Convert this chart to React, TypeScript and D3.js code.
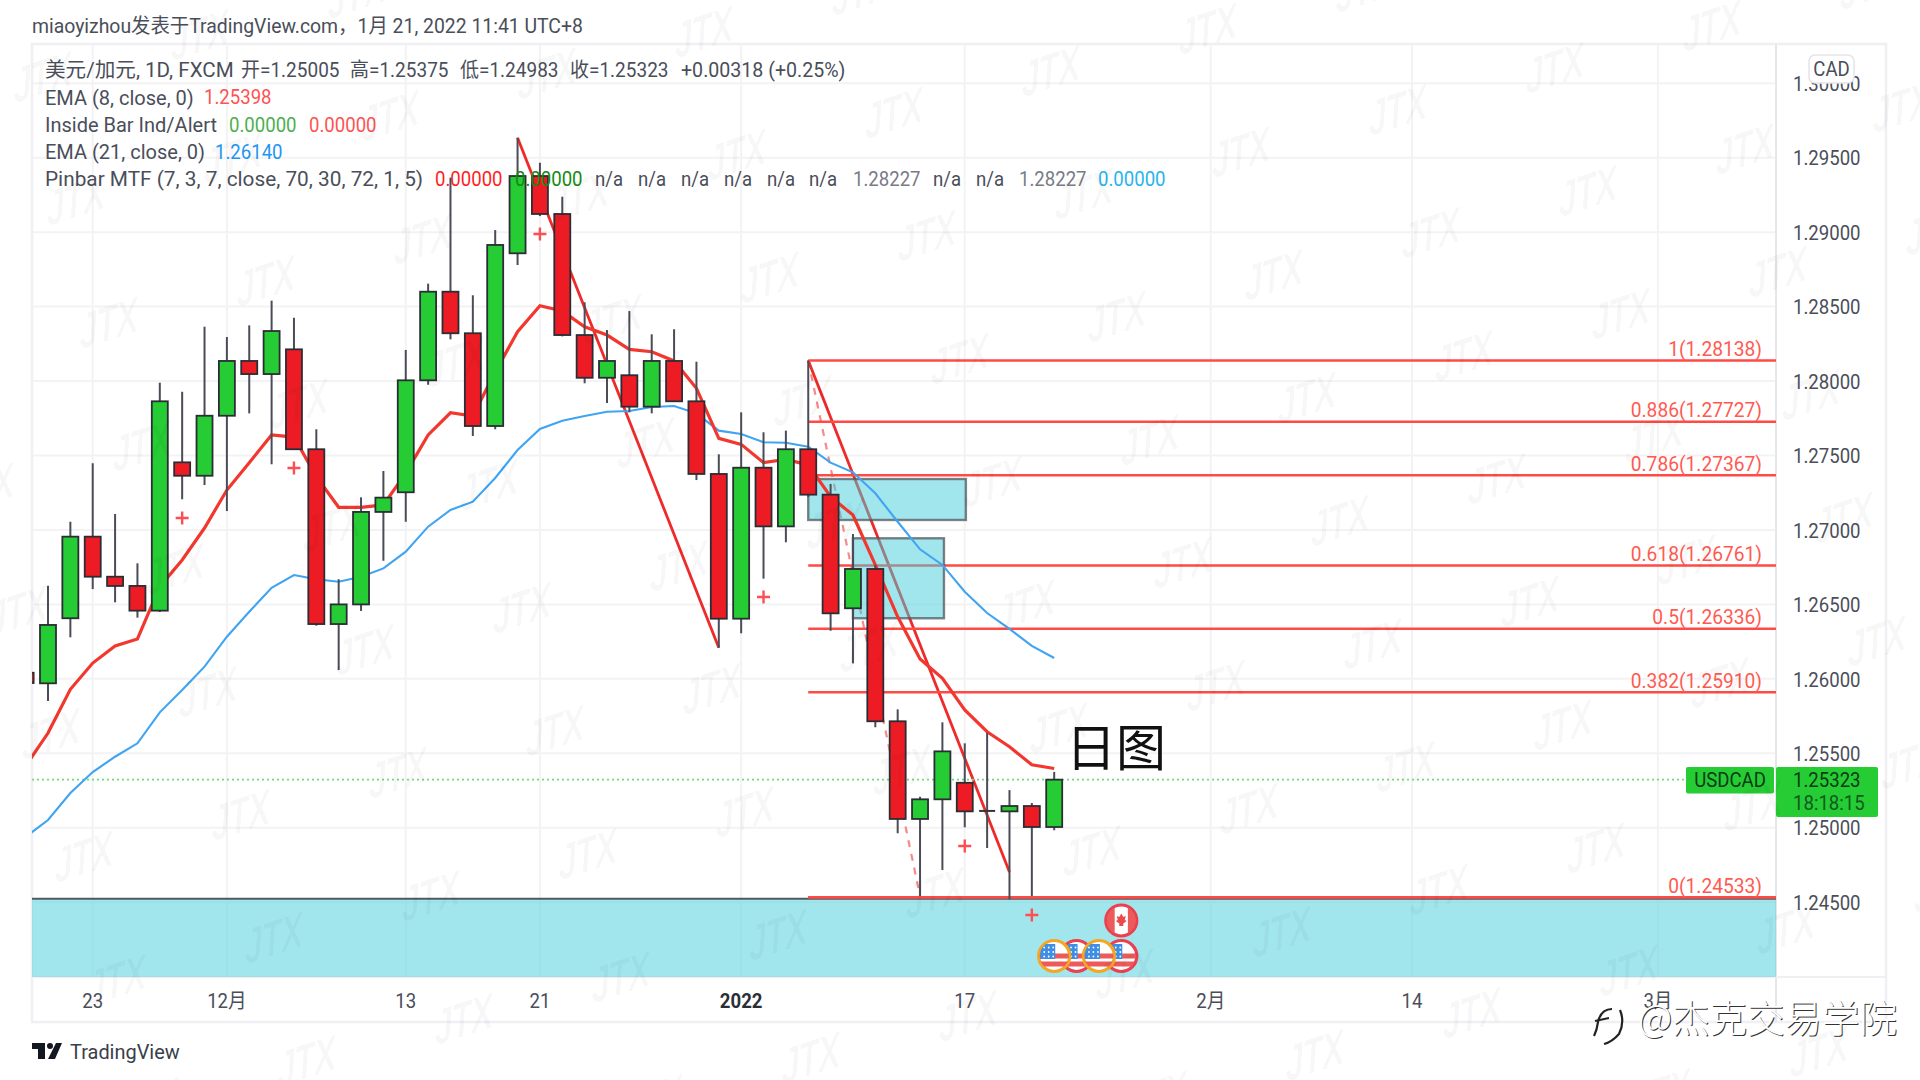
import React from 'react';
import * as d3 from 'd3';

const firstIndex = -1;
const opens = [1.26041,1.2597,1.26407,1.26955,1.26686,1.26624,1.26458,1.27454,1.27364,1.27767,1.28135,1.28047,1.28213,1.27542,1.26368,1.265,1.27121,1.27253,1.28005,1.286,1.28321,1.27698,1.28858,1.29377,1.29122,1.28309,1.28022,1.28039,1.27828,1.28135,1.27864,1.27376,1.26404,1.27418,1.27024,1.27542,1.27237,1.26474,1.26738,1.25715,1.25059,1.25191,1.25302,1.25113,1.2511,1.25146,1.25005];
const closes = [1.25972,1.26362,1.26955,1.26686,1.26624,1.26458,1.27864,1.27364,1.27767,1.28135,1.28047,1.28336,1.27542,1.26368,1.265,1.27121,1.27217,1.28005,1.286,1.28321,1.27698,1.28914,1.29377,1.29122,1.28309,1.28022,1.28135,1.27828,1.28135,1.27864,1.27376,1.26404,1.27418,1.27024,1.27542,1.27237,1.2644,1.26738,1.25715,1.25059,1.25191,1.25513,1.2511,1.25113,1.25146,1.25005,1.25323];
const highs = [1.2605,1.26626,1.27055,1.27448,1.27107,1.26776,1.27989,1.27928,1.28365,1.28296,1.28374,1.2854,1.28425,1.27676,1.26669,1.27219,1.27396,1.28209,1.28654,1.29366,1.28576,1.29014,1.29634,1.29466,1.29238,1.28529,1.28343,1.2847,1.28314,1.28348,1.2813,1.27508,1.2779,1.27656,1.27667,1.28138,1.27309,1.26973,1.26765,1.25795,1.25208,1.25708,1.25567,1.25638,1.25253,1.25166,1.25375];
const lows = [1.2596,1.25851,1.26279,1.26603,1.26514,1.26411,1.26449,1.27206,1.27302,1.27127,1.27783,1.27441,1.27537,1.26357,1.26059,1.26456,1.26793,1.27055,1.27975,1.2828,1.27631,1.27676,1.28779,1.29108,1.283,1.27985,1.27853,1.2779,1.27783,1.2786,1.27335,1.26209,1.26306,1.26673,1.26917,1.27222,1.26323,1.26104,1.25675,1.24963,1.24542,1.24716,1.25003,1.24864,1.24519,1.24542,1.24983];
const ema8 = [1.25415,1.25636,1.2593,1.26106,1.26221,1.26268,1.26619,1.26798,1.27013,1.27268,1.27452,1.27638,1.27624,1.27358,1.27152,1.27152,1.27168,1.27382,1.27638,1.27787,1.27765,1.28061,1.28331,1.28506,1.2847,1.28365,1.28309,1.28213,1.28197,1.28135,1.27951,1.27615,1.27575,1.27452,1.27474,1.27436,1.27223,1.271,1.26765,1.26417,1.26133,1.26004,1.25791,1.25645,1.25544,1.25423,1.25398];
const ema21 = [1.24938,1.25052,1.25233,1.25374,1.25477,1.25567,1.25775,1.25925,1.26082,1.26283,1.26451,1.26612,1.26697,1.26669,1.26652,1.26686,1.26742,1.26854,1.27022,1.27134,1.2719,1.27349,1.27537,1.27678,1.27734,1.27765,1.27794,1.27799,1.27826,1.27832,1.27783,1.27667,1.27644,1.27589,1.27586,1.27559,1.27452,1.27387,1.27246,1.27055,1.2687,1.26765,1.26585,1.26442,1.26335,1.26221,1.2614];

const priceTicks = [1.3,1.295,1.29,1.285,1.28,1.275,1.27,1.265,1.26,1.255,1.25,1.245];
const timeTickIdx = [2,8,16,22,31,41,52,61,72];
const timeTickLabels = ['23','12月','13','21','2022','17','2月','14','3月'];

const fibPrices = [1.28138,1.27727,1.27367,1.26761,1.26336,1.2591,1.24533];
const fibLevels = ['1','0.886','0.786','0.618','0.5','0.382','0'];

const plusIdx = [6,11,22,32,41,44];
const plusPrices = [1.2708,1.27416,1.28988,1.2655,1.24877,1.24414];

const zigA = [[21,1.29634],[30,1.26209]];
const zigB = [[34,1.28138],[43,1.24703]];
const zigDash = [[34,1.28138],[39,1.24542]];

const boxes = [[34,41.05,1.27342,1.27067],[36,40.07,1.26944,1.26407]];
const bandPrices = [1.24523,1.23998];

const legendTop = ['美元/加元, 1D, FXCM','开=1.25005','高=1.25375','低=1.24983','收=1.25323','+0.00318 (+0.25%)'];
const legendTopX = [45,241,350,460,570,681];
const pinbarValues = ['n/a','n/a','n/a','n/a','n/a','n/a','1.28227','n/a','n/a','1.28227'];
const pinbarX = [595,638,681,724,767,809,853,933,976,1019];

const L = 32, R = 1776, T0 = 44, B = 977, OR = 1886, OB = 1022;
const x = d3.scaleLinear().domain([0,45]).range([48,1054.2]);
const y = d3.scaleLinear().domain([1.295,1.245]).range([157.7,902.2]);

const GREEN = '#26CC33', RED = '#ED1C24', TXT = '#4A4E59', FIBRED = '#FF4A45';
const UI = "Roboto, 'Noto Sans CJK SC', sans-serif";

function Tx({px,py,s=20,sx=0.93,fill=TXT,anchor='start',weight=400,children,family=UI}:any){
  return <text transform={`translate(${px},${py}) scale(${sx},1)`} fontSize={s} fill={fill} textAnchor={anchor} fontWeight={weight} dominantBaseline="central" fontFamily={family} style={{whiteSpace:'pre'}}>{children}</text>;
}

function UsFlag({cx,cy,ring}:any){
  const id = `f${Math.round(cx)}`;
  return <g>
    <clipPath id={id}><circle cx={cx} cy={cy} r={14.5}/></clipPath>
    <circle cx={cx} cy={cy} r={15.5} fill="#fff" stroke={ring} strokeWidth={3.2}/>
    <g clipPath={`url(#${id})`}>
      <rect x={cx-16} y={cy-2.5} width={32} height={5} fill="#EC5A5A"/>
      <rect x={cx-16} y={cy+5.5} width={32} height={5} fill="#EC5A5A"/>
      <rect x={cx-14} y={cy-12} width={15} height={15} fill="#3E8EE6"/>
      {d3.range(3).map(a=>d3.range(3).map(b=><circle key={`${a}${b}`} cx={cx-10+a*4.5} cy={cy-8.5+b*4.5} r={0.9} fill="#fff"/>))}
    </g>
  </g>;
}

export default function App(){
  const n = opens.length;
  const idx = d3.range(n).map(i=>i+firstIndex);
  const line = d3.line<number>().x((_,i)=>x(idx[i])).y(d=>y(d)).curve(d3.curveLinear);
  const seg = d3.line<number[]>().x(d=>x(d[0])).y(d=>y(d[1]));
  const bw = 8;
  const lattice:[number,number][] = [];
  for(let a=-12;a<12;a++) for(let b=-4;b<12;b++){
    const px = 1240 + a*157 + b*33;
    const py = 152 - a*42 + b*123;
    if(px>-60&&px<1980&&py>-40&&py<1120) lattice.push([px,py]);
  }
  const cx48 = x(48), cyCa = 920.5;
  return (
    <svg width={1920} height={1080} viewBox="0 0 1920 1080" style={{position:'fixed',left:0,top:0,background:'#fff'}}>
      <defs>
        <clipPath id="plot"><rect x={L} y={T0} width={R-L} height={B-T0}/></clipPath>
        <clipPath id="caclip"><circle cx={cx48} cy={cyCa} r={14.5}/></clipPath>
      </defs>
      <rect width={1920} height={1080} fill="#fff"/>
      {/* grid */}
      <g stroke="#F3F3F5" strokeWidth={2}>
        {priceTicks.map(p=><line key={p} x1={L} x2={R} y1={y(p)} y2={y(p)}/>)}
        {timeTickIdx.map(i=><line key={i} x1={x(i)} x2={x(i)} y1={T0} y2={B}/>)}
      </g>
      {/* frame */}
      <rect x={L} y={T0} width={OR-L} height={OB-T0} fill="none" stroke="#EFEFF4" strokeWidth={2.5}/>
      <line x1={R} x2={R} y1={T0} y2={OB} stroke="#E6E6EB" strokeWidth={2}/>
      <line x1={L} x2={OR} y1={B} y2={B} stroke="#EFEFF4" strokeWidth={2}/>
      <g clipPath="url(#plot)">
        <path d={seg(zigDash as any)!} fill="none" stroke="#F58A8A" strokeWidth={2.2} strokeDasharray="7 7"/>
        <path d={seg(zigA as any)!} fill="none" stroke="#EE2A2A" strokeWidth={2.8}/>
        <path d={seg(zigB as any)!} fill="none" stroke="#EE2A2A" strokeWidth={2.8}/>
        {fibPrices.map(p=><line key={p} x1={x(34)} x2={R} y1={y(p)} y2={y(p)} stroke={FIBRED} strokeWidth={2.6}/>)}
        {boxes.map((b,i)=><rect key={i} x={x(b[0])} y={y(b[2])} width={x(b[1])-x(b[0])} height={y(b[3])-y(b[2])} fill="#46CDDC" fillOpacity={0.5} stroke="#50585F" strokeOpacity={0.75} strokeWidth={2.4}/>)}
        <rect x={L} y={y(bandPrices[0])} width={R-L} height={y(bandPrices[1])-y(bandPrices[0])} fill="#46CDDC" fillOpacity={0.5}/>
        <line x1={L} x2={R} y1={y(bandPrices[0])} y2={y(bandPrices[0])} stroke="#50585F" strokeWidth={2}/>
        <line x1={x(34)} x2={R} y1={y(fibPrices[6])} y2={y(fibPrices[6])} stroke={FIBRED} strokeWidth={2.8}/>
        <line x1={L} x2={1686} y1={y(closes[n-1])} y2={y(closes[n-1])} stroke="#6FDB7A" strokeWidth={1.6} strokeDasharray="2 3"/>
        <path d={line(ema21)!} fill="none" stroke="#3FA4F2" strokeWidth={2.1}/>
        <path d={line(ema8)!} fill="none" stroke="#F2382E" strokeWidth={3.2}/>
        {idx.map((ix,i)=>{
          const up = closes[i]>opens[i], doji = closes[i]===opens[i];
          const top = y(Math.max(opens[i],closes[i])), bot = y(Math.min(opens[i],closes[i]));
          return <g key={ix}>
            <line x1={x(ix)} x2={x(ix)} y1={y(highs[i])} y2={y(lows[i])} stroke="#4A4C57" strokeWidth={2}/>
            {doji
              ? <line x1={x(ix)-bw} x2={x(ix)+bw} y1={top} y2={top} stroke="#33343C" strokeWidth={2}/>
              : <rect x={x(ix)-bw} y={top} width={2*bw} height={bot-top} fill={up?GREEN:RED} stroke="#2B2D35" strokeWidth={1.8}/>}
          </g>;
        })}
        {plusIdx.map((ix,i)=><path key={ix} d={`M${x(ix)-6.5},${y(plusPrices[i])}h13M${x(ix)},${y(plusPrices[i])-6.5}v13`} stroke="#FF4D55" strokeWidth={2.4}/>)}
        {/* event flags */}
        <UsFlag cx={x(46)} cy={956} ring="#EB4050"/>
        <UsFlag cx={x(48)} cy={956} ring="#EB4050"/>
        <UsFlag cx={x(47)} cy={956} ring="#F5A623"/>
        <UsFlag cx={x(45)} cy={956} ring="#F5A623"/>
        <g>
          <circle cx={cx48} cy={cyCa} r={15.5} fill="#fff" stroke="#EB4050" strokeWidth={3.2}/>
          <g clipPath="url(#caclip)">
            <rect x={cx48-15} y={cyCa-16} width={8.4} height={32} fill="#EC5A5A"/>
            <rect x={cx48+6.6} y={cyCa-16} width={8.4} height={32} fill="#EC5A5A"/>
          </g>
          <path d={`M${cx48},${cyCa-7}l2,3.5 2.5,-1 -1,4 2,1 -3.5,2.5 0,2.5 -4,0 0,-2.5 -3.5,-2.5 2,-1 -1,-4 2.5,1z`} fill="#EC4A4A"/>
        </g>
      </g>
      {/* fib labels */}
      {fibPrices.map((p,i)=><Tx key={p} px={1762} py={y(p)-11} sx={0.96} anchor="end" fill="#FF5A52">{`${fibLevels[i]}(${p.toFixed(5)})`}</Tx>)}
      {/* price axis */}
      {priceTicks.map(p=><Tx key={p} px={1793} py={y(p)+1}>{p.toFixed(5)}</Tx>)}
      <rect x={1809} y={55} width={45} height={28} rx={6} fill="#fff" stroke="#E4E4EA" strokeWidth={1.5}/>
      <Tx px={1831.5} py={69} anchor="middle">CAD</Tx>
      {/* last price */}
      <rect x={1686} y={767} width={88} height={26.5} rx={2} fill={GREEN}/>
      <rect x={1776} y={767} width={102} height={50} rx={2} fill={GREEN}/>
      <Tx px={1730} py={780} anchor="middle" fill="#0C3B16">USDCAD</Tx>
      <Tx px={1793} py={780} fill="#0C3B16">{closes[n-1].toFixed(5)}</Tx>
      <Tx px={1793} py={803} fill="#0F5A20">18:18:15</Tx>
      {/* time axis */}
      {timeTickIdx.map((i,k)=><Tx key={i} px={x(i)} py={1001} anchor="middle" weight={timeTickLabels[k]==='2022'?700:400} fill={timeTickLabels[k]==='2022'?'#2A2E39':TXT}>{timeTickLabels[k]}</Tx>)}
      {/* header */}
      <Tx px={32} py={26} sx={0.97}>miaoyizhou发表于TradingView.com，1月 21, 2022 11:41 UTC+8</Tx>
      {legendTop.map((t,i)=><Tx key={t} px={legendTopX[i]} py={70} sx={i===0?1.03:i===5?0.98:0.95}>{t}</Tx>)}
      <Tx px={45} py={97.5} sx={1}>EMA (8, close, 0)</Tx>
      <Tx px={204} py={97.5} fill="#FF5252">{ema8[n-1].toFixed(5)}</Tx>
      <Tx px={45} py={125} sx={1}>Inside Bar Ind/Alert</Tx>
      <Tx px={229} py={125} fill="#4CAF50">0.00000</Tx>
      <Tx px={309} py={125} fill="#FF5252">0.00000</Tx>
      <Tx px={45} py={152} sx={1}>EMA (21, close, 0)</Tx>
      <Tx px={215} py={152} fill="#2196F3">{ema21[n-1].toFixed(5)}</Tx>
      <Tx px={45} py={179} sx={1.04}>Pinbar MTF (7, 3, 7, close, 70, 30, 72, 1, 5)</Tx>
      <Tx px={435} py={179} fill="#FF1E1E">0.00000</Tx>
      <Tx px={515} py={179} fill="#138A13">0.00000</Tx>
      {pinbarValues.map((v,i)=><Tx key={i} px={pinbarX[i]} py={179} fill={v==='n/a'?TXT:'#787B86'}>{v}</Tx>)}
      <Tx px={1098} py={179} fill="#26B5F0">0.00000</Tx>
      {/* big label */}
      <text x={1116} y={744} fontSize={50} textAnchor="middle" dominantBaseline="central" fontFamily="'Noto Sans CJK SC'" fill="#111">日图</text>
      {/* TradingView logo */}
      <path d="M32,1043h13v16h-7v-10h-6zM50,1046m-3,0a3,3 0 1,0 6,0a3,3 0 1,0 -6,0M56,1043h6l-7,16h-7z" fill="#131722"/>
      <Tx px={70} py={1052} fill="#3A3E4A" s={21} sx={0.95}>TradingView</Tx>
      {/* watermark */}
      <g fill="#000" fillOpacity={0.03} fontFamily="'Liberation Sans'" fontWeight={700} fontStyle="italic" fontSize={37}>
        {lattice.map(([px,py],i)=><text key={i} transform={`translate(${px},${py}) rotate(-18) skewX(-14) scale(0.95,1.3)`} textAnchor="middle" dominantBaseline="central" letterSpacing={-1}>JTX</text>)}
      </g>
      {/* weibo mark */}
      <g fill="none" stroke="#222" strokeWidth={2.2}>
        <path d="M1594,1036 Q1597,1030 1598,1022 Q1601,1009 1612,1009"/>
        <path d="M1595,1021 L1609,1018"/>
        <path d="M1620,1010 Q1625,1022 1619,1034 Q1612,1042 1604,1044"/>
      </g>
      <text x={1638} y={1015} fontSize={37.5} dominantBaseline="central" fontFamily="'Noto Sans CJK SC'" fill="#333" fontWeight={300} transform="translate(1,1)">@杰克交易学院</text>
      <text x={1638} y={1015} fontSize={37.5} dominantBaseline="central" fontFamily="'Noto Sans CJK SC'" fill="#fff" fontWeight={300}>@杰克交易学院</text>
    </svg>
  );
}
